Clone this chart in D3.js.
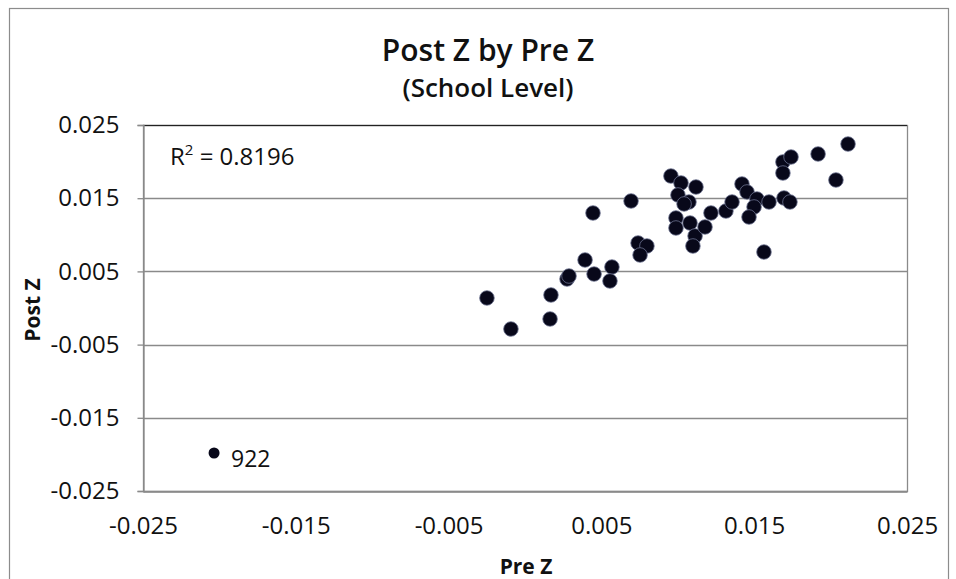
<!DOCTYPE html>
<html>
<head>
<meta charset="utf-8">
<script src="https://cdn.jsdelivr.net/npm/d3@7"></script>
<style>
  body { margin: 0; background: #fff; }
  text { font-family: "Open Sans", sans-serif; fill: #111; }
</style>
</head>
<body>
<div id="chart"></div>
<script>
var svgWidth = 956;
var svgHeight = 579;

// plot area inside the chart
var plot = { left: 143, top: 125, right: 907, bottom: 491 };

// school points
var preZ = [-0.00249, -0.00092, 0.00164, 0.00170, 0.00275, 0.00288, 0.00393, 0.00445, 0.00452,
  0.00569, 0.00556, 0.00694, 0.00740, 0.00798, 0.00753, 0.00955, 0.01021, 0.01119, 0.01001,
  0.01073, 0.01041, 0.00988, 0.00988, 0.01080, 0.01113, 0.01099, 0.01178, 0.01217, 0.01315,
  0.01355, 0.01420, 0.01453, 0.01518, 0.01499, 0.01466, 0.01597, 0.01564, 0.01688, 0.01741,
  0.01688, 0.01918, 0.02114, 0.02035, 0.01695, 0.01734];
var postZ = [0.00137, -0.00287, -0.00150, 0.00178, 0.00396, 0.00437, 0.00656, 0.01298, 0.00464,
  0.00560, 0.00369, 0.01462, 0.00888, 0.00847, 0.00724, 0.01803, 0.01708, 0.01653, 0.01544,
  0.01448, 0.01421, 0.01230, 0.01093, 0.01161, 0.00984, 0.00847, 0.01107, 0.01298, 0.01325,
  0.01448, 0.01694, 0.01585, 0.01489, 0.01380, 0.01243, 0.01448, 0.00765, 0.01995, 0.02063,
  0.01844, 0.02104, 0.02240, 0.01749, 0.01503, 0.01448];

// the outlier school
var outlierPre = [-0.02035];
var outlierPost = [-0.01981];
var outlierLabel = ["922"];

var tickValues = [-0.025, -0.015, -0.005, 0.005, 0.015, 0.025];
var rSquared = "0.8196";

var points = preZ.map((d, i) => ({ x: d, y: postZ[i] }));
var outliers = outlierPre.map((d, i) => ({ x: d, y: outlierPost[i], label: outlierLabel[i] }));

var svg = d3.select("#chart")
  .append("svg")
  .attr("width", svgWidth)
  .attr("height", svgHeight);

// chart border
svg.append("rect")
  .attr("x", 9.5)
  .attr("y", 8.5)
  .attr("width", 939)
  .attr("height", 600)
  .attr("fill", "#fff")
  .attr("stroke", "#8c8c8c")
  .attr("stroke-width", 1.2);

var xScale = d3.scaleLinear()
  .domain([-0.025, 0.025])
  .range([plot.left, plot.right]);

var yScale = d3.scaleLinear()
  .domain([-0.025, 0.025])
  .range([plot.bottom, plot.top]);

// gridlines
svg.append("g")
  .selectAll("line")
  .data(tickValues)
  .enter()
  .append("line")
  .attr("x1", plot.left)
  .attr("x2", plot.right)
  .attr("y1", d => Math.round(yScale(d)) + 0.5)
  .attr("y2", d => Math.round(yScale(d)) + 0.5)
  .attr("stroke", "#8a8a8a")
  .attr("stroke-width", 1.3);

// plot area border
svg.append("rect")
  .attr("x", plot.left + 0.5)
  .attr("y", plot.top + 0.5)
  .attr("width", plot.right - plot.left)
  .attr("height", plot.bottom - plot.top)
  .attr("fill", "none")
  .attr("stroke", "#8a8a8a")
  .attr("stroke-width", 1.3);

// top line looks darker
svg.append("line")
  .attr("x1", plot.left)
  .attr("x2", plot.right)
  .attr("y1", plot.top + 0.5)
  .attr("y2", plot.top + 0.5)
  .attr("stroke", "#222")
  .attr("stroke-width", 1.2);

// plain hyphen for negatives, like the original
var fmt = d => d3.format(".3f")(d).replace("\u2212", "-");

var leftAxis = d3.axisLeft(yScale)
  .tickValues(tickValues)
  .tickFormat(fmt)
  .tickSize(6)
  .tickPadding(18);

var yAxis = svg.append("g")
  .attr("transform", `translate(${plot.left + 0.5}, 0)`)
  .call(leftAxis);
yAxis.select(".domain").attr("stroke", "#8a8a8a").attr("stroke-width", 1.3);
yAxis.selectAll(".tick line").attr("stroke", "#8a8a8a").attr("stroke-width", 1.3);
yAxis.selectAll("text")
  .attr("font-size", 24)
  .attr("font-family", "Open Sans, sans-serif")
  .attr("fill", "#111");

var bottomAxis = d3.axisBottom(xScale)
  .tickValues(tickValues)
  .tickFormat(fmt)
  .tickSize(0)
  .tickPadding(25);

var xAxis = svg.append("g")
  .attr("transform", `translate(0, ${plot.bottom + 0.5})`)
  .call(bottomAxis);
xAxis.select(".domain").attr("stroke", "#8a8a8a").attr("stroke-width", 1.3);
xAxis.selectAll("text")
  .attr("font-size", 24)
  .attr("font-family", "Open Sans, sans-serif")
  .attr("fill", "#111");

// dots
svg.append("g")
  .selectAll("circle")
  .data(points)
  .enter()
  .append("circle")
  .attr("cx", d => xScale(d.x))
  .attr("cy", d => yScale(d.y))
  .attr("r", 7.3)
  .attr("fill", "#08081a")
  .attr("stroke", "#6c7290")
  .attr("stroke-width", 0.8);

svg.append("g")
  .selectAll("circle")
  .data(outliers)
  .enter()
  .append("circle")
  .attr("cx", d => xScale(d.x))
  .attr("cy", d => yScale(d.y))
  .attr("r", 5.5)
  .attr("fill", "#08081a");

svg.append("g")
  .selectAll("text")
  .data(outliers)
  .enter()
  .append("text")
  .attr("x", d => xScale(d.x) + 17)
  .attr("y", d => yScale(d.y) + 6)
  .attr("dy", "0.35em")
  .attr("font-size", 23)
  .attr("fill", "#333")
  .text(d => d.label);

// R squared note
var rText = svg.append("text")
  .attr("x", 170)
  .attr("y", 165)
  .attr("font-size", 24)
  .attr("fill", "#333");
rText.append("tspan").text("R");
rText.append("tspan").attr("dy", -10).attr("font-size", 15).text("2");
rText.append("tspan").attr("dy", 10).text(" = " + rSquared);

// titles
svg.append("text")
  .attr("x", 488)
  .attr("y", 61)
  .attr("text-anchor", "middle")
  .attr("font-size", 30)
  .attr("font-weight", 600)
  .text("Post Z by Pre Z");

svg.append("text")
  .attr("x", 488)
  .attr("y", 97)
  .attr("text-anchor", "middle")
  .attr("font-size", 26)
  .attr("font-weight", 600)
  .text("(School Level)");

svg.append("text")
  .attr("x", 526)
  .attr("y", 574)
  .attr("text-anchor", "middle")
  .attr("font-size", 21)
  .attr("font-weight", 700)
  .text("Pre Z");

svg.append("text")
  .attr("transform", "translate(40, 310) rotate(-90)")
  .attr("text-anchor", "middle")
  .attr("font-size", 21)
  .attr("font-weight", 700)
  .text("Post Z");
</script>
</body>
</html>
